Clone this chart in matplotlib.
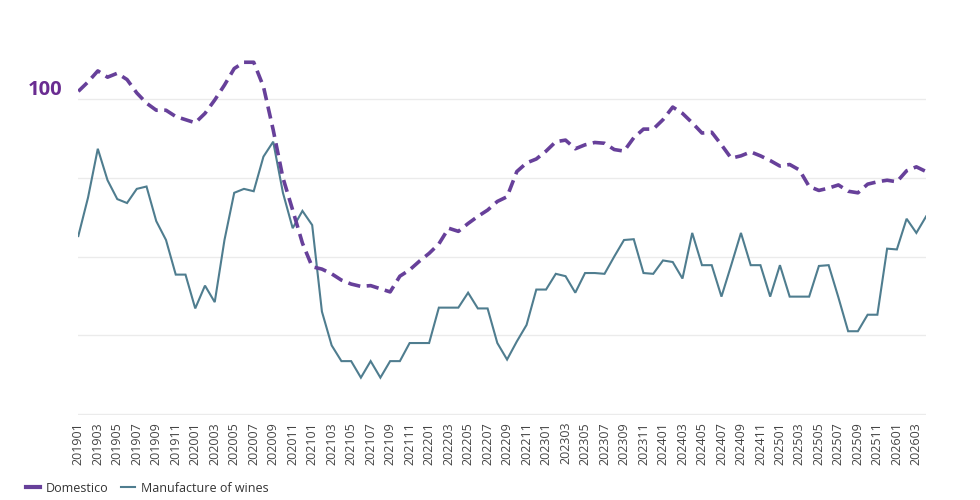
import matplotlib
matplotlib.use("Agg")
import matplotlib.pyplot as plt
from matplotlib.lines import Line2D

plt.rcParams['font.family'] = ['Open Sans', 'DejaVu Sans']

# months 201901 .. 202604
years = list(range(2019, 2027))
months = [f"{y}{m:02d}" for y in years for m in range(1, 13)]
months = months[:months.index("202604") + 1]

domestico = [
    101.0, 102.2, 103.6, 102.8, 103.3, 102.5, 100.8, 99.5, 98.6, 98.6, 97.8, 97.4,
    97.0, 98.2, 99.9, 101.8, 103.9, 104.7, 104.7, 101.6, 96.1, 90.0, 85.9, 81.7,
    78.7, 78.4, 77.8, 77.0, 76.5, 76.2, 76.3, 75.9, 75.5, 77.5, 78.3, 79.4,
    80.4, 81.6, 83.6, 83.2, 84.2, 85.1, 85.9, 87.0, 87.6, 90.8, 91.9, 92.4,
    93.4, 94.6, 94.8, 93.7, 94.2, 94.5, 94.4, 93.6, 93.4, 95.1, 96.2, 96.2,
    97.4, 99.0, 98.2, 97.0, 95.7, 95.8, 94.2, 92.5, 92.8, 93.3, 92.8, 92.2,
    91.5, 91.7, 91.0, 88.9, 88.4, 88.7, 89.1, 88.3, 88.1, 89.2, 89.5, 89.7,
    89.5, 90.9, 91.4, 90.8,
]

wines = [
    82.6, 87.5, 93.7, 89.7, 87.3, 86.8, 88.6, 88.9, 84.5, 82.1, 77.7, 77.7,
    73.4, 76.3, 74.2, 82.1, 88.1, 88.6, 88.3, 92.7, 94.6, 88.1, 83.6, 85.8,
    84.0, 73.0, 68.7, 66.7, 66.7, 64.6, 66.7, 64.6, 66.7, 66.7, 69.0, 69.0,
    69.0, 73.5, 73.5, 73.5, 75.4, 73.4, 73.4, 69.0, 66.9, 69.2, 71.3, 75.8,
    75.8, 77.8, 77.5, 75.4, 77.9, 77.9, 77.8, 80.0, 82.1, 82.2, 77.9, 77.8,
    79.5, 79.3, 77.2, 83.0, 78.9, 78.9, 74.9, 78.9, 83.0, 78.9, 78.9, 74.9,
    78.9, 74.9, 74.9, 74.9, 78.8, 78.9, 74.8, 70.5, 70.5, 72.6, 72.6, 81.0,
    80.9, 84.8, 83.0, 85.1,
]

grid_values = [60, 70, 80, 90, 100]
labelled_value = "100"

purple = "#67409a"
teal = "#4f7d8f"

fig = plt.figure(figsize=(9.8, 5.0), dpi=100)
ax = fig.add_axes([78.3 / 980, 85 / 500, (926.1 - 78.3) / 980, (415 - 30) / 500])

x = list(range(len(months)))
ax.plot(x, wines, color=teal, lw=1.5, solid_joinstyle='miter', zorder=3)
ax.plot(x, domestico, color=purple, lw=2.6, linestyle=(0, (3.4, 1.8)), zorder=4)

ax.set_xlim(0, len(months) - 1)
ax.set_ylim(59.85, 108.8)
ax.set_yticks(grid_values)
ax.set_yticklabels([])
ax.tick_params(axis='y', length=0)
ax.grid(axis='y', color='#ebebeb', lw=1)
ax.set_axisbelow(True)
for s in ax.spines.values():
    s.set_visible(False)

ax.set_xticks(x[::2])
ax.set_xticklabels(months[::2], rotation=90, fontsize=9, color='#444444')
ax.tick_params(axis='x', length=0, pad=5)

fig.text(62 / 980, 1 - 90 / 500, labelled_value, ha='right', va='center',
         fontsize=14.5, fontweight='bold', color='#6a2c91')

handles = [Line2D([], [], color=purple, lw=3),
           Line2D([], [], color=teal, lw=1.5)]
fig.legend(handles, ['Domestico', 'Manufacture of wines'], loc='lower left',
           bbox_to_anchor=(0.015, -0.012), ncol=2, frameon=False, fontsize=9,
           handlelength=1.1, handletextpad=0.5, columnspacing=1.0,
           labelcolor='#333333')

fig.savefig("out.png", dpi=100)
